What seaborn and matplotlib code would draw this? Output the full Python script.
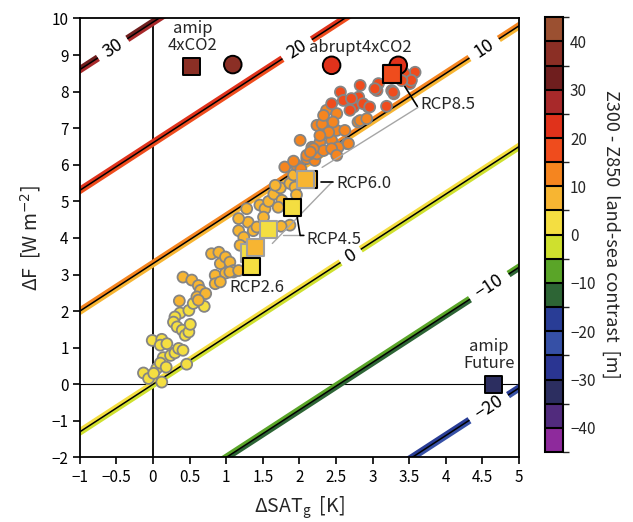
import numpy as np
import pandas as pd
import matplotlib
matplotlib.use("Agg")
import matplotlib.pyplot as plt
import matplotlib.colors as mcolors
import matplotlib.ticker as mticker
import seaborn as sns

# line family: dF = SLOPE * dSAT + SCALE * Z
SLOPE = 1.3
SCALE = 0.33
line_levels = [-20, -10, 0, 10, 20, 30]
line_label_pos = [(4.61, -0.71), (4.55, 2.80), (2.71, 3.48), (4.54, 9.13), (1.97, 9.16), (-0.55, 9.18)]

# colour bins of Z300 - Z850 land-sea contrast
bounds = list(range(-45, 50, 5))
bin_colors = ["#8e2a9c", "#512b7d", "#2c2e60", "#2a3592", "#3650a6", "#293d96",
              "#2d6535", "#5aa528", "#cfe02e", "#f4de41", "#f7b532", "#f5851f",
              "#ef4c1d", "#e0321b", "#a8292a", "#6f1e1e", "#8b2f25", "#9b5031"]

# model dots, grouped by the colour bin they fall in
yel_x = [-0.13, -0.06, 0.05, 0.12, 0.01, -0.01, 0.12, 0.10, 0.19, 0.14, 0.10, 0.18, 0.24, 0.30,
         0.35, 0.41, 0.46, 0.37, 0.30, 0.28, 0.33, 0.40, 0.44, 0.49, 0.49, 0.51, 0.55, 0.70]
yel_y = [0.31, 0.16, 0.43, 0.06, 0.30, 1.20, 1.23, 1.07, 1.11, 0.73, 0.58, 0.47, 0.79, 0.86,
         0.98, 0.93, 0.55, 1.95, 1.84, 1.70, 1.57, 1.48, 1.34, 1.43, 2.02, 1.64, 2.21, 2.13]

lor_x = [0.36, 0.41, 0.53, 0.62, 0.65, 0.60, 0.72, 0.85, 0.85, 0.99, 1.10, 0.62, 0.80, 0.90,
         0.92, 0.99, 1.05, 1.10, 0.92, 1.05, 1.17, 1.17, 1.24, 1.19, 1.30, 1.37, 1.28, 1.46,
         1.53, 1.58, 1.65, 1.74, 1.67, 1.76, 1.71, 1.51, 1.42, 1.28, 1.17, 1.87, 1.94, 1.96,
         1.87, 1.75, 1.92]
lor_y = [2.28, 2.93, 2.85, 2.70, 2.57, 2.39, 2.48, 2.98, 2.75, 3.04, 3.07, 2.30, 3.57, 3.61,
         3.30, 3.48, 3.34, 3.11, 2.80, 3.07, 3.11, 4.20, 4.02, 3.80, 4.43, 4.20, 3.71, 4.90,
         4.80, 5.00, 5.20, 5.37, 5.44, 5.03, 4.84, 4.57, 4.30, 4.80, 4.53, 5.49, 5.39, 5.18,
         4.35, 4.32, 5.72]

ora_x = [1.80, 1.96, 2.02, 2.10, 2.21, 2.15, 2.24, 2.40, 2.44, 2.51, 2.65, 2.53, 2.24, 2.80,
         2.17, 2.28, 2.33, 2.37, 2.51, 2.46, 2.31, 2.40, 2.19, 2.44, 2.10, 2.33, 2.28, 2.62,
         2.83, 2.92, 2.67, 2.51, 2.01, 2.15, 1.92]
ora_y = [5.94, 5.99, 5.89, 6.17, 6.12, 6.30, 6.30, 6.85, 6.67, 6.94, 6.58, 6.48, 7.08, 7.17,
         6.48, 6.62, 6.39, 7.49, 7.40, 7.17, 7.12, 6.89, 6.44, 6.44, 6.26, 7.35, 6.80, 6.94,
         7.21, 7.26, 6.58, 6.26, 6.67, 6.35, 6.10]

red_x = [3.58, 3.44, 3.51, 3.29, 3.26, 3.08, 3.06, 2.83, 2.81, 2.74, 2.94, 2.56, 2.60, 2.44,
         3.03, 2.71, 2.87, 2.96, 2.69, 3.19, 3.28, 3.53, 3.40]
red_y = [8.53, 8.49, 8.22, 7.94, 8.03, 8.22, 8.03, 8.17, 7.85, 7.58, 7.58, 7.99, 7.76, 7.67,
         8.08, 7.81, 7.67, 7.58, 7.49, 7.60, 7.99, 8.31, 8.30]

group_z = {"yel": 2.5, "lor": 7.5, "ora": 12.5, "red": 17.5}

# experiment markers
amip_sq = (0.52, 8.70, 37.5)
amip_circ = (1.09, 8.74, 37.5)
abrupt_x = [2.44, 3.35]
abrupt_y = [8.72, 8.72]
abrupt_z = [22.5, 22.5]
future_sq = (4.65, 0.0, -32.5)

rcp_names = ["RCP2.6", "RCP4.5", "RCP6.0", "RCP8.5"]
rcp_black_x = [1.34, 1.90, 2.12, 3.27]
rcp_black_y = [3.22, 4.83, 5.59, 8.49]
rcp_black_z = [2.5, 2.5, 7.5, 17.5]
rcp_gray_x = [1.33, 1.58, 1.40, 2.08]
rcp_gray_y = [3.58, 4.23, 3.75, 5.59]
rcp_gray_z = [2.5, 2.5, 7.5, 7.5]
rcp_label_x = [1.05, 2.09, 2.51, 3.65]
rcp_label_y = [2.65, 3.96, 5.49, 7.65]

black_leaders = [([1.97, 2.01, 2.06], [4.56, 4.07, 4.07]),
                 ([2.29, 2.46], [5.52, 5.52]),
                 ([3.44, 3.61], [8.14, 7.60])]
gray_leaders = [([1.78, 2.01], [4.07, 4.07]),
                ([1.63, 2.44], [3.85, 5.52]),
                ([2.31, 3.62], [5.93, 7.57])]

cmap = mcolors.ListedColormap(bin_colors)
norm = mcolors.BoundaryNorm(bounds, cmap.N)

cloud = pd.concat([
    pd.DataFrame({"sat": yel_x, "dF": yel_y, "z": group_z["yel"]}),
    pd.DataFrame({"sat": lor_x, "dF": lor_y, "z": group_z["lor"]}),
    pd.DataFrame({"sat": ora_x, "dF": ora_y, "z": group_z["ora"]}),
    pd.DataFrame({"sat": red_x, "dF": red_y, "z": group_z["red"]}),
], ignore_index=True)

sns.set_theme(style="white")
plt.rcParams["font.family"] = ["Noto Sans CJK JP", "DejaVu Sans"]
plt.rcParams["axes.unicode_minus"] = True
plt.rcParams["contour.negative_linestyle"] = "solid"

fig = plt.figure(figsize=(6.33, 5.22), dpi=100)
ax = fig.add_axes([0.126, 0.1236, 0.694, 0.841])
cax = fig.add_axes([0.861, 0.134, 0.0285, 0.833])

# contour lines of constant contrast, two-tone with black centre
gx = np.linspace(-1.3, 5.3, 400)
gy = np.linspace(-2.5, 10.5, 400)
GX, GY = np.meshgrid(gx, gy)
GZ = (GY - SLOPE * GX) / SCALE
DELTA = 0.18
up_cols = [cmap(norm(L + 2.5)) for L in line_levels]
lo_cols = [cmap(norm(L - 2.5)) for L in line_levels]


def fmt(v):
    return f"{int(round(v))}".replace("-", "\u2212")


cs_up = ax.contour(GX, GY, GZ, levels=[L + DELTA for L in line_levels], colors=up_cols,
                   linewidths=2.6, linestyles="solid", zorder=2)
cs_lo = ax.contour(GX, GY, GZ, levels=[L - DELTA for L in line_levels], colors=lo_cols,
                   linewidths=2.6, linestyles="solid", zorder=2)
cs_k = ax.contour(GX, GY, GZ, levels=line_levels, colors="black", linewidths=1.1,
                  linestyles="solid", zorder=2.1)
for cs in (cs_up, cs_lo):
    txts = cs.clabel(fmt=fmt, manual=line_label_pos, inline=True, inline_spacing=6, fontsize=13)
    for t in txts:
        t.set_visible(False)
cs_k.clabel(fmt=fmt, manual=line_label_pos, inline=True, inline_spacing=6, fontsize=13, colors="black")

ax.axvline(0, color="black", lw=1.3, zorder=1.5)
ax.axhline(0, color="black", lw=0.8, zorder=1.5)

# model cloud
sns.scatterplot(data=cloud, x="sat", y="dF", hue="z", palette=cmap, hue_norm=norm, s=62,
                edgecolor="#858585", linewidth=1.3, legend=False, ax=ax, zorder=3)

# leader lines
for lx, ly in gray_leaders:
    ax.plot(lx, ly, color="#a6a6a6", lw=1.0, zorder=3.5)
for lx, ly in black_leaders:
    ax.plot(lx, ly, color="black", lw=1.2, zorder=3.5)

gray_df = pd.DataFrame({"sat": rcp_gray_x, "dF": rcp_gray_y, "z": rcp_gray_z})
black_df = pd.DataFrame({"sat": rcp_black_x, "dF": rcp_black_y, "z": rcp_black_z})
sns.scatterplot(data=gray_df.iloc[:1], x="sat", y="dF", hue="z", palette=cmap, hue_norm=norm,
                marker="s", s=150, edgecolor="#a0a0a0", linewidth=1.5, legend=False, ax=ax, zorder=3.8)
sns.scatterplot(data=black_df, x="sat", y="dF", hue="z", palette=cmap, hue_norm=norm,
                marker="s", s=150, edgecolor="black", linewidth=1.5, legend=False, ax=ax, zorder=4)
sns.scatterplot(data=gray_df.iloc[1:], x="sat", y="dF", hue="z", palette=cmap, hue_norm=norm,
                marker="s", s=150, edgecolor="#a0a0a0", linewidth=1.5, legend=False, ax=ax, zorder=4.5)

exp_sq = pd.DataFrame({"sat": [amip_sq[0], future_sq[0]], "dF": [amip_sq[1], future_sq[1]],
                       "z": [amip_sq[2], future_sq[2]]})
exp_circ = pd.DataFrame({"sat": [amip_circ[0]] + abrupt_x, "dF": [amip_circ[1]] + abrupt_y,
                         "z": [amip_circ[2]] + abrupt_z})
sns.scatterplot(data=exp_circ, x="sat", y="dF", hue="z", palette=cmap, hue_norm=norm,
                marker="o", s=160, edgecolor="black", linewidth=1.4, legend=False, ax=ax, zorder=3.9)
sns.scatterplot(data=exp_sq, x="sat", y="dF", hue="z", palette=cmap, hue_norm=norm,
                marker="s", s=150, edgecolor="black", linewidth=1.4, legend=False, ax=ax, zorder=4)
# RCP8.5 square sits on top of the abrupt circle
sns.scatterplot(data=black_df.iloc[3:], x="sat", y="dF", hue="z", palette=cmap, hue_norm=norm,
                marker="s", s=150, edgecolor="black", linewidth=1.5, legend=False, ax=ax, zorder=4.6)

for name, lx, ly in zip(rcp_names, rcp_label_x, rcp_label_y):
    ax.text(lx, ly, name, fontsize=12, ha="left", va="center", zorder=6)
ax.text(0.54, 9.5, "amip\n4xCO2", fontsize=12, ha="center", va="center", linespacing=1.0, zorder=6)
ax.text(2.83, 9.21, "abrupt4xCO2", fontsize=12, ha="center", va="center", zorder=6)
ax.text(4.59, 0.79, "amip\nFuture", fontsize=12, ha="center", va="center", linespacing=1.0, zorder=6)

ax.set_xlim(-1, 5)
ax.set_ylim(-2, 10)
ax.set_xticks(np.arange(-1, 5.01, 0.5))
ax.set_yticks(np.arange(-2, 10.01, 1))
tick_fmt = mticker.FuncFormatter(lambda v, p: f"{v:g}".replace("-", "\u2212"))
ax.xaxis.set_major_formatter(tick_fmt)
ax.yaxis.set_major_formatter(tick_fmt)
ax.tick_params(direction="out", length=5, width=1.2, colors="black", labelsize=11,
               bottom=True, left=True, top=False, right=False, pad=3)
for sp in ax.spines.values():
    sp.set_color("black")
    sp.set_linewidth(1.3)
ax.set_xlabel("\u0394SAT$_\\mathregular{g}$  [K]", fontsize=14, labelpad=6)
ax.set_ylabel("\u0394F  [W m$^{-2}$]", fontsize=14, labelpad=6)

sm = matplotlib.cm.ScalarMappable(norm=norm, cmap=cmap)
cbar = fig.colorbar(sm, cax=cax, ticks=list(range(-40, 41, 10)), drawedges=True)
cbar.dividers.set_color("black")
cbar.dividers.set_linewidth(1.5)
cbar.outline.set_linewidth(1.5)
cbar.outline.set_edgecolor("black")
cbar.ax.tick_params(length=0, labelsize=11, pad=5)
cbar.ax.yaxis.set_major_formatter(tick_fmt)
cbar.set_label("Z300 - Z850  land-sea contrast  [m]", rotation=270, fontsize=13, labelpad=18)

fig.savefig("out.png", dpi=100)
